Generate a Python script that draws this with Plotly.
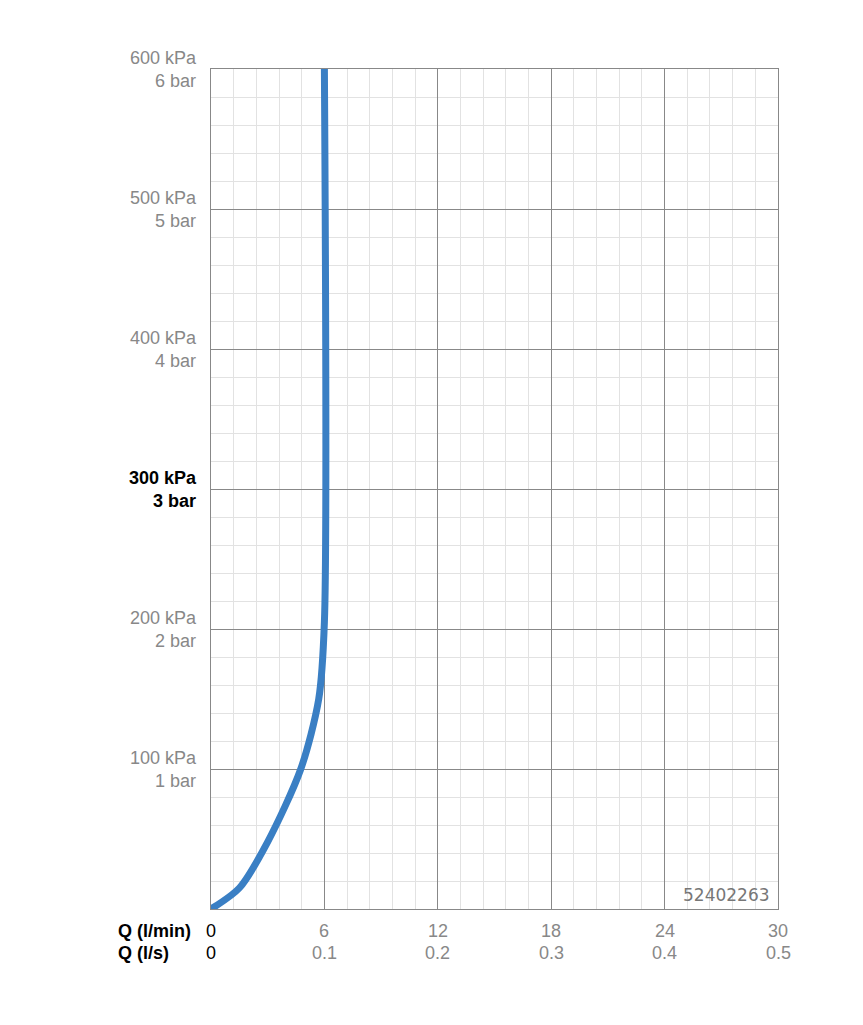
import plotly.graph_objects as go

flow_lpm = [0, 1.5, 3.0, 4.75, 5.7, 6.0, 6.0]
pressure_kpa = [0, 15, 48, 100, 150, 205, 600]
x_ticks = [0, 6, 12, 18, 24, 30]
x_lpm_labels = ["0", "6", "12", "18", "24", "30"]
x_lps_labels = ["0", "0.1", "0.2", "0.3", "0.4", "0.5"]
y_ticks = [100, 200, 300, 400, 500, 600]
y_kpa_labels = ["100 kPa", "200 kPa", "300 kPa", "400 kPa", "500 kPa", "600 kPa"]
y_bar_labels = ["1 bar", "2 bar", "3 bar", "4 bar", "5 bar", "6 bar"]

fig = go.Figure()
fig.add_trace(go.Scatter(x=flow_lpm, y=pressure_kpa, mode="lines", line=dict(color="#3a7fc4", width=7, shape="spline", smoothing=0.8), hoverinfo="skip"))

fig.update_layout(
    width=863, height=1025, margin=dict(l=203, r=93, t=61, b=124),
    paper_bgcolor="white", plot_bgcolor="white", showlegend=False,
    font=dict(family="Liberation Sans, Arial", size=18, color="#888"),
    xaxis=dict(range=[0, 30], showticklabels=False, showgrid=True, gridcolor="#888", gridwidth=1,
               dtick=6, minor=dict(dtick=1.2, showgrid=True, gridcolor="#e2e2e2", gridwidth=1),
               showline=True, linecolor="#888", mirror=True, zeroline=False, ticks=""),
    yaxis=dict(range=[0, 600], showticklabels=False, showgrid=True, gridcolor="#888", gridwidth=1,
               dtick=100, minor=dict(dtick=20, showgrid=True, gridcolor="#e2e2e2", gridwidth=1),
               showline=True, linecolor="#888", mirror=True, zeroline=False, ticks=""),
)

ann = []
for x, a, b in zip(x_ticks, x_lpm_labels, x_lps_labels):
    col = "black" if x == 0 else "#888"
    ann.append(dict(x=x, y=0, xref="x", yref="y", text=a, showarrow=False, yshift=-22, font=dict(color=col, size=18)))
    ann.append(dict(x=x, y=0, xref="x", yref="y", text=b, showarrow=False, yshift=-44, font=dict(color=col, size=18)))
for y, a, b in zip(y_ticks, y_kpa_labels, y_bar_labels):
    bold = y == 300
    col = "black" if bold else "#888"
    txt = f"<b>{a}<br>{b}</b>" if bold else f"{a}<br>{b}"
    ann.append(dict(x=0, y=y, xref="x", yref="y", text=txt, showarrow=False, xanchor="right", align="right",
                    xshift=-12, font=dict(color=col, size=18)))
ann.append(dict(x=0, y=0, xref="x", yref="y", text="<b>Q (l/min)</b>", showarrow=False, xanchor="right", xshift=-18, yshift=-22, font=dict(color="black", size=18)))
ann.append(dict(x=0, y=0, xref="x", yref="y", text="<b>Q (l/s)</b>", showarrow=False, xanchor="right", xshift=-40, yshift=-44, font=dict(color="black", size=18)))
ann.append(dict(x=30, y=0, xref="x", yref="y", text="52402263", showarrow=False, xanchor="right", yanchor="bottom", xshift=-6, yshift=2, font=dict(color="#777", size=17, family="DejaVu Sans")))
fig.update_layout(annotations=ann)
fig.write_html("out.html")
